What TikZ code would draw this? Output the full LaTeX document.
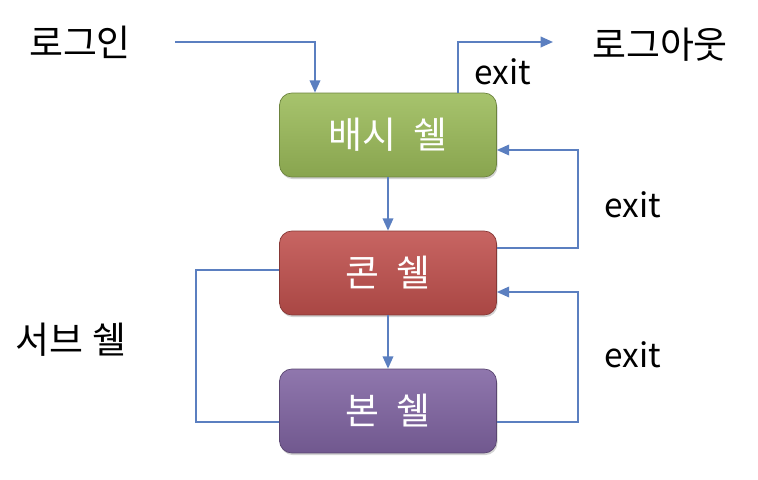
\documentclass[tikz,border=0pt]{standalone}
\usepackage{fontspec}
\setmainfont{Noto Sans CJK KR}
\usetikzlibrary{shadows,arrows.meta}

\definecolor{linkblue}{HTML}{5B7FC0}
\definecolor{bashgreen}{HTML}{9BBB59}
\definecolor{cshred}{HTML}{C0504D}
\definecolor{bournepurple}{HTML}{8064A2}

\tikzset{
    shellbox/.style={rounded corners=7pt, minimum width=4.34cm, minimum height=1.68cm,
        text=white, font=\fontsize{21}{24}\selectfont, draw=#1!70!black, line width=0.4pt,
        top color=#1!88!white, bottom color=#1!88!black,
        drop shadow={shadow xshift=0.6pt, shadow yshift=-1.2pt, opacity=0.35}},
    link/.style={draw=linkblue, line width=1pt},
    label/.style={font=\fontsize{21}{24}\selectfont}
}

\begin{document}
\begin{tikzpicture}[x=0.02cm, y=-0.02cm, >={Stealth[length=7pt, width=6pt, inset=0pt]}]
    \useasboundingbox (0,0) rectangle (758,480);

    % shells
    \node[shellbox=bashgreen] (bash) at (388,135) {배시\hspace{0.45em}쉘};
    \node[shellbox=cshred] (csh) at (388,273) {콘\hspace{0.45em}쉘};
    \node[shellbox=bournepurple] (bourne) at (388,411) {본\hspace{0.45em}쉘};

    % texts
    \node[label] (login) at (80,42) {로그인};
    \node[label] (logout) at (660,45) {로그아웃};
    \node[label] (sub) at (71,340) {서브 쉘};
    \node[label, font=\fontsize{19}{22}\selectfont] (exit1) at (503,72) {exit};
    \node[label, font=\fontsize{19}{22}\selectfont] (exit2) at (633,205) {exit};
    \node[label, font=\fontsize{19}{22}\selectfont] (exit3) at (633,355) {exit};

    % login / logout
    \coordinate (lin) at (175,42);
    \coordinate (lout) at (553,42);
    \draw[link, ->] (lin) -| (bash.north -| 315,0);
    \draw[link, ->] (bash.north -| 458,0) |- (lout);

    % down
    \draw[link, ->] (bash) -- (csh);
    \draw[link, ->] (csh) -- (bourne);

    % return
    \draw[link, ->] (csh.east |- 0,248) -- (578,248) |- (bash.east |- 0,150);
    \draw[link, ->] (bourne.east |- 0,422) -- (578,422) |- (csh.east |- 0,292);

    % sub shell
    \draw[link] (csh.west |- 0,270) -- (196,270) |- (bourne.west |- 0,422);
\end{tikzpicture}
\end{document}
